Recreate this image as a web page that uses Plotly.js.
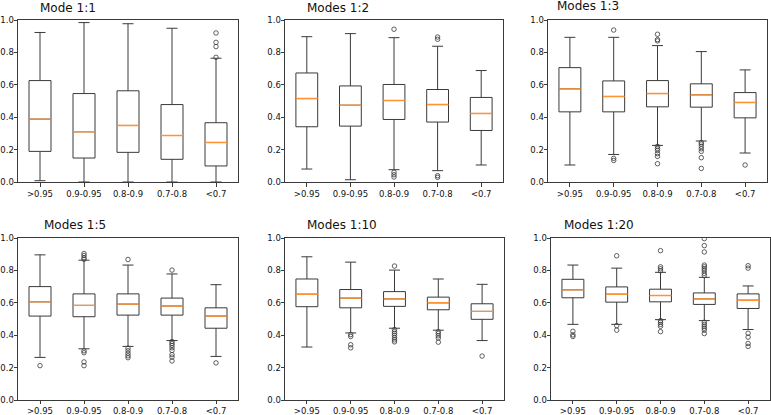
<!DOCTYPE html>
<html>
<head>
<meta charset="utf-8">
<script src="https://cdn.plot.ly/plotly-3.0.1.min.js"></script>
<style>html,body{margin:0;padding:0;background:#fff;}#chart{width:771px;height:415px;}</style>
</head>
<body>
<div id="chart"></div>
<script>
const categories = ['>0.95', '0.9-0.95', '0.8-0.9', '0.7-0.8', '<0.7'];
const titles = ['Mode 1:1', 'Modes 1:2', 'Modes 1:3', 'Modes 1:5', 'Modes 1:10', 'Modes 1:20'];
const yTicks = [0, 0.2, 0.4, 0.6, 0.8, 1.0];

// Panel 1: Mode 1:1
const p1_low  = [0.008, 0.000, 0.000, 0.000, 0.000];
const p1_q1   = [0.189, 0.148, 0.183, 0.140, 0.099];
const p1_med  = [0.388, 0.310, 0.349, 0.287, 0.244];
const p1_q3   = [0.626, 0.546, 0.563, 0.478, 0.366];
const p1_high = [0.923, 0.984, 0.977, 0.949, 0.764];
const p1_outCat = ['<0.7', '<0.7', '<0.7', '<0.7'];
const p1_outVal = [0.920, 0.862, 0.836, 0.770];

// Panel 2: Modes 1:2
const p2_low  = [0.080, 0.014, 0.076, 0.070, 0.105];
const p2_q1   = [0.341, 0.345, 0.386, 0.370, 0.318];
const p2_med  = [0.515, 0.474, 0.503, 0.478, 0.423];
const p2_q3   = [0.673, 0.593, 0.602, 0.571, 0.522];
const p2_high = [0.897, 0.916, 0.891, 0.838, 0.688];
const p2_outCat = ['0.8-0.9', '0.8-0.9', '0.8-0.9', '0.8-0.9', '0.7-0.8', '0.7-0.8', '0.7-0.8', '0.7-0.8'];
const p2_outVal = [0.943, 0.060, 0.045, 0.031, 0.895, 0.881, 0.039, 0.029];

// Panel 3: Modes 1:3
const p3_low  = [0.105, 0.170, 0.226, 0.253, 0.179];
const p3_q1   = [0.433, 0.433, 0.464, 0.462, 0.396];
const p3_med  = [0.575, 0.528, 0.546, 0.538, 0.491];
const p3_q3   = [0.706, 0.624, 0.626, 0.606, 0.552];
const p3_high = [0.893, 0.893, 0.842, 0.805, 0.692];
const p3_outCat = ['0.9-0.95', '0.9-0.95', '0.9-0.95',
  '0.8-0.9', '0.8-0.9', '0.8-0.9', '0.8-0.9', '0.8-0.9', '0.8-0.9', '0.8-0.9', '0.8-0.9', '0.8-0.9',
  '0.7-0.8', '0.7-0.8', '0.7-0.8', '0.7-0.8', '0.7-0.8', '0.7-0.8', '0.7-0.8', '<0.7'];
const p3_outVal = [0.938, 0.146, 0.133,
  0.912, 0.879, 0.871, 0.220, 0.207, 0.195, 0.175, 0.158, 0.113,
  0.244, 0.234, 0.220, 0.205, 0.189, 0.150, 0.084, 0.105];

// Panel 4: Modes 1:5
const p4_low  = [0.263, 0.316, 0.331, 0.367, 0.269];
const p4_q1   = [0.518, 0.514, 0.524, 0.524, 0.443];
const p4_med  = [0.606, 0.584, 0.592, 0.580, 0.518];
const p4_q3   = [0.700, 0.655, 0.655, 0.629, 0.569];
const p4_high = [0.896, 0.863, 0.833, 0.778, 0.712];
const p4_outCat = ['>0.95',
  '0.9-0.95', '0.9-0.95', '0.9-0.95', '0.9-0.95', '0.9-0.95', '0.9-0.95', '0.9-0.95', '0.9-0.95',
  '0.8-0.9', '0.8-0.9', '0.8-0.9', '0.8-0.9', '0.8-0.9', '0.8-0.9',
  '0.7-0.8', '0.7-0.8', '0.7-0.8', '0.7-0.8', '0.7-0.8', '0.7-0.8', '0.7-0.8', '0.7-0.8', '0.7-0.8',
  '<0.7'];
const p4_outVal = [0.212,
  0.904, 0.892, 0.878, 0.869, 0.304, 0.292, 0.235, 0.212,
  0.867, 0.320, 0.304, 0.288, 0.273, 0.261,
  0.802, 0.361, 0.349, 0.337, 0.322, 0.306, 0.280, 0.265, 0.241,
  0.229];

// Panel 5: Modes 1:10
const p5_low  = [0.327, 0.414, 0.443, 0.431, 0.367];
const p5_q1   = [0.576, 0.569, 0.578, 0.557, 0.498];
const p5_med  = [0.653, 0.629, 0.624, 0.600, 0.547];
const p5_q3   = [0.747, 0.682, 0.669, 0.635, 0.594];
const p5_high = [0.884, 0.851, 0.802, 0.747, 0.714];
const p5_outCat = ['0.9-0.95', '0.9-0.95', '0.9-0.95', '0.9-0.95',
  '0.8-0.9', '0.8-0.9', '0.8-0.9', '0.8-0.9', '0.8-0.9', '0.8-0.9', '0.8-0.9', '0.8-0.9',
  '0.7-0.8', '0.7-0.8', '0.7-0.8', '0.7-0.8', '0.7-0.8', '<0.7'];
const p5_outVal = [0.404, 0.392, 0.341, 0.322,
  0.827, 0.435, 0.422, 0.410, 0.398, 0.384, 0.371, 0.359,
  0.422, 0.410, 0.396, 0.382, 0.357, 0.271];

// Panel 6: Modes 1:20
const p6_low  = [0.467, 0.467, 0.496, 0.490, 0.435];
const p6_q1   = [0.631, 0.604, 0.606, 0.590, 0.565];
const p6_med  = [0.680, 0.653, 0.645, 0.624, 0.616];
const p6_q3   = [0.745, 0.698, 0.684, 0.661, 0.655];
const p6_high = [0.833, 0.814, 0.788, 0.757, 0.704];
const p6_outCat = ['>0.95', '>0.95', '>0.95',
  '0.9-0.95', '0.9-0.95', '0.9-0.95',
  '0.8-0.9', '0.8-0.9', '0.8-0.9', '0.8-0.9', '0.8-0.9', '0.8-0.9', '0.8-0.9', '0.8-0.9', '0.8-0.9',
  '0.7-0.8', '0.7-0.8', '0.7-0.8', '0.7-0.8', '0.7-0.8', '0.7-0.8', '0.7-0.8', '0.7-0.8', '0.7-0.8',
  '0.7-0.8', '0.7-0.8', '0.7-0.8', '0.7-0.8', '0.7-0.8', '0.7-0.8',
  '<0.7', '<0.7', '<0.7', '<0.7', '<0.7', '<0.7'];
const p6_outVal = [0.424, 0.402, 0.392,
  0.890, 0.459, 0.431,
  0.922, 0.822, 0.810, 0.798, 0.490, 0.480, 0.467, 0.455, 0.422,
  0.996, 0.953, 0.914, 0.833, 0.822, 0.810, 0.798, 0.782, 0.769,
  0.480, 0.467, 0.455, 0.443, 0.431, 0.410,
  0.829, 0.814, 0.412, 0.388, 0.349, 0.331];

const panels = [
  {low: p1_low, q1: p1_q1, med: p1_med, q3: p1_q3, high: p1_high, oc: p1_outCat, ov: p1_outVal},
  {low: p2_low, q1: p2_q1, med: p2_med, q3: p2_q3, high: p2_high, oc: p2_outCat, ov: p2_outVal},
  {low: p3_low, q1: p3_q1, med: p3_med, q3: p3_q3, high: p3_high, oc: p3_outCat, ov: p3_outVal},
  {low: p4_low, q1: p4_q1, med: p4_med, q3: p4_q3, high: p4_high, oc: p4_outCat, ov: p4_outVal},
  {low: p5_low, q1: p5_q1, med: p5_med, q3: p5_q3, high: p5_high, oc: p5_outCat, ov: p5_outVal},
  {low: p6_low, q1: p6_q1, med: p6_med, q3: p6_q3, high: p6_high, oc: p6_outCat, ov: p6_outVal}
];

// layout geometry (pixels in a 771x415 canvas)
const W = 771, H = 415;
const xPix = [[18, 238], [285, 503], [548, 767], [18, 238], [285, 504], [551, 770]];
const yPix = [[20, 182], [20, 182], [20, 182], [238, 400], [238, 400], [238, 400]];
const titlePos = [[38, 8], [305, 8], [555, 6], [42, 225], [305, 225], [562, 225]];

const edge = '#3a3a3a';
const tickFont = {family: 'DejaVu Sans, sans-serif', size: 8.5, color: '#111'};

const data = [];
const layout = {
  width: W, height: H,
  margin: {l: 0, r: 0, t: 0, b: 0},
  paper_bgcolor: '#fff', plot_bgcolor: '#fff',
  showlegend: false,
  boxmode: 'overlay',
  annotations: []
};

panels.forEach((p, i) => {
  const n = i + 1;
  const xa = 'x' + (n === 1 ? '' : n);
  const ya = 'y' + (n === 1 ? '' : n);
  data.push({
    type: 'box', x: categories, q1: p.q1, median: p.med, q3: p.q3,
    lowerfence: p.low, upperfence: p.high,
    xaxis: xa, yaxis: ya, width: 0.5, whiskerwidth: 0.5,
    fillcolor: 'rgba(0,0,0,0)', line: {color: edge, width: 1},
    boxpoints: false, hoverinfo: 'skip'
  });
  data.push({
    type: 'box', x: categories, q1: p.med, median: p.med, q3: p.med,
    lowerfence: p.med, upperfence: p.med,
    xaxis: xa, yaxis: ya, width: 0.5, whiskerwidth: 0,
    fillcolor: 'rgba(0,0,0,0)', line: {color: '#ff9233', width: 1.4},
    boxpoints: false, hoverinfo: 'skip'
  });
  data.push({
    type: 'scatter', mode: 'markers', x: p.oc, y: p.ov,
    xaxis: xa, yaxis: ya, hoverinfo: 'skip',
    marker: {symbol: 'circle-open', size: 4.5, color: edge, line: {color: edge, width: 0.8}}
  });
  const axCommon = {
    showline: true, mirror: true, linecolor: edge, linewidth: 1,
    ticks: 'outside', tickwidth: 1, tickcolor: edge,
    showgrid: false, zeroline: false, fixedrange: true, tickfont: tickFont
  };
  layout['xaxis' + (n === 1 ? '' : n)] = Object.assign({}, axCommon, {
    type: 'category', categoryorder: 'array', categoryarray: categories,
    range: [-0.5, 4.5],
    ticklen: n > 3 ? 2.5 : 3.5,
    domain: [xPix[i][0] / W, xPix[i][1] / W],
    anchor: ya
  });
  layout['yaxis' + (n === 1 ? '' : n)] = Object.assign({}, axCommon, {
    range: [0, 1], tickvals: yTicks, tickformat: '.1f',
    ticklen: 3.5, ticklabelstandoff: -2,
    domain: [1 - yPix[i][1] / H, 1 - yPix[i][0] / H],
    anchor: xa
  });
  layout.annotations.push({
    text: titles[i], xref: 'paper', yref: 'paper',
    x: titlePos[i][0] / W, y: 1 - titlePos[i][1] / H,
    xanchor: 'left', yanchor: 'middle', showarrow: false,
    font: {family: 'DejaVu Sans, sans-serif', size: 12, color: '#111'}
  });
});

Plotly.newPlot('chart', data, layout, {staticPlot: true, displayModeBar: false});
</script>
</body>
</html>
